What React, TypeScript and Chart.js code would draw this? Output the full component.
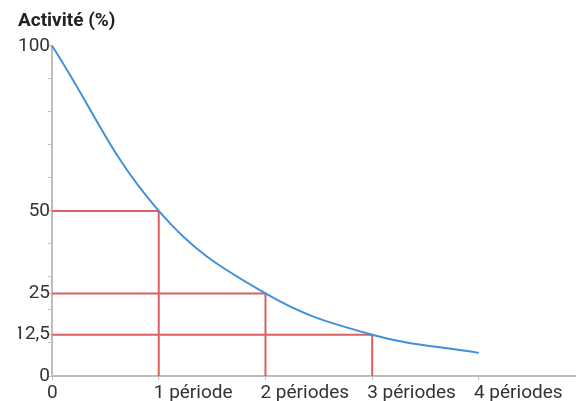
import React, { useEffect, useRef } from "react";
import { Chart, registerables } from "chart.js";

Chart.register(...registerables);

const periods = [0, 1, 2, 3, 4];
const activity = [100, 50, 25, 12.5, 7];
const xTickLabels = ["0", "1 période", "2 périodes", "3 périodes", "4 périodes"];
const yMinorTicks = [0, 10, 12.5, 20, 25, 30, 40, 50, 60, 70, 80, 90, 100];
const yLabelValues = [0, 12.5, 25, 50, 100];
const yLabelTexts = ["0", "12,5", "25", "50", "100"];
const halfLifeX = [1, 2, 3];
const halfLifeY = [50, 25, 12.5];
const titleText = "Activité (%)";

export default function App() {
  const ref = useRef<HTMLCanvasElement | null>(null);
  useEffect(() => {
    if (!ref.current) return;
    const FONT = "Roboto";
    const axisColor = "#bdbdbd";
    const red = "#d9625f";
    const blue = "#4191da";
    const curve = {
      data: periods.map((p, i) => ({ x: p, y: activity[i] })),
      borderColor: blue,
      borderWidth: 2,
      pointRadius: 0,
      tension: 0.4,
      fill: false,
      clip: false as any,
    };
    const guides = halfLifeX.map((p, i) => ({
      data: [
        { x: 0, y: halfLifeY[i] },
        { x: p, y: halfLifeY[i] },
        { x: p, y: 0 },
      ],
      borderColor: red,
      borderWidth: 2,
      pointRadius: 0,
      tension: 0,
      fill: false,
      clip: false as any,
    }));
    const chart = new Chart(ref.current, {
      type: "line",
      data: { datasets: [curve, ...guides] as any },
      options: {
        animation: false,
        responsive: false,
        layout: { padding: { left: 18, right: 1, top: 0, bottom: 0 } },
        plugins: {
          legend: { display: false },
          tooltip: { enabled: false },
          title: {
            display: true,
            text: titleText,
            align: "start",
            color: "#222",
            font: { family: FONT, size: 19, weight: "bold" },
            padding: { top: 10, bottom: 13 },
          },
        },
        scales: {
          x: {
            type: "linear",
            min: 0,
            max: 4.9,
            afterBuildTicks: (s: any) => {
              s.ticks = periods.map((v) => ({ value: v }));
            },
            afterFit: (s: any) => {
              s.height = 25;
            },
            border: { color: axisColor, width: 2 },
            grid: { drawOnChartArea: false, color: axisColor, tickLength: 4, lineWidth: 1 },
            ticks: {
              align: "start",
              labelOffset: -5,
              padding: 2,
              maxRotation: 0,
              autoSkip: false,
              color: "#333",
              font: { family: FONT, size: 19 },
              callback: (v: any) => {
                const i = periods.indexOf(Number(v));
                return i >= 0 ? xTickLabels[i] : "";
              },
            },
          },
          y: {
            type: "linear",
            min: 0,
            max: 100,
            afterBuildTicks: (s: any) => {
              s.ticks = yMinorTicks.map((v) => ({ value: v }));
            },
            afterFit: (s: any) => {
              s.width = 34;
            },
            border: { color: axisColor, width: 2 },
            grid: { drawOnChartArea: false, color: axisColor, tickLength: 4, lineWidth: 1 },
            ticks: {
              padding: -2,
              autoSkip: false,
              color: "#333",
              font: { family: FONT, size: 19 },
              callback: (v: any) => {
                const i = yLabelValues.indexOf(Number(v));
                return i >= 0 ? yLabelTexts[i] : "";
              },
            },
          },
        },
      },
    });
    return () => chart.destroy();
  }, []);
  return (
    <div style={{ position: "absolute", left: 0, top: 0, width: 576, height: 401 }}>
      <canvas ref={ref} width={576} height={401} />
    </div>
  );
}
